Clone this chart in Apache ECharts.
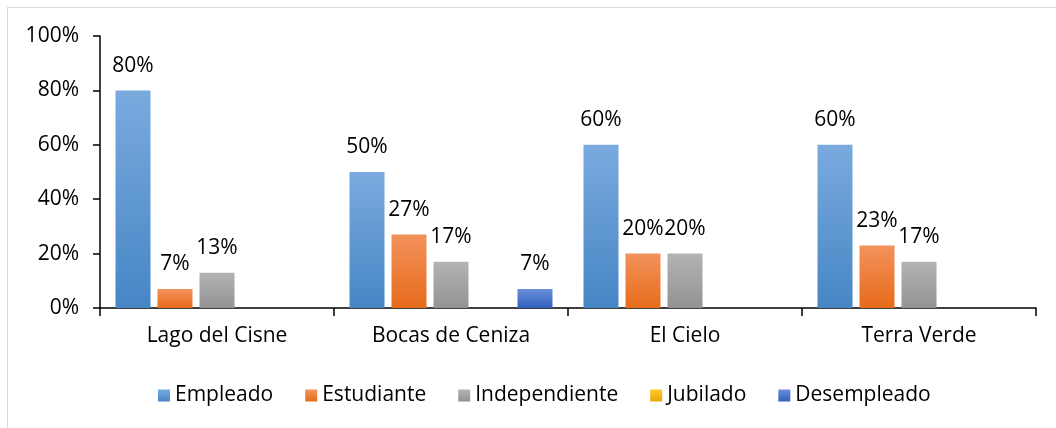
<!DOCTYPE html>
<html>
<head>
<meta charset="utf-8">
<script src="https://cdn.jsdelivr.net/npm/echarts@6/dist/echarts.min.js"></script>
<style>
    html, body { margin: 0; padding: 0; background: #fff; }
    #frame {
        position: absolute; left: 7px; top: 7px; width: 1100px; height: 500px;
        border-left: 1px solid #d9d9d9; border-top: 1px solid #d9d9d9;
    }
    #chart { position: absolute; left: 0; top: 0; width: 1056px; height: 428px; }
</style>
</head>
<body>
<div id="frame"></div>
<div id="chart"></div>
<script>
    // Lugares
    const categories = ['Lago del Cisne', 'Bocas de Ceniza', 'El Cielo', 'Terra Verde'];
    // Ocupación (%)
    const empleado = [80, 50, 60, 60];
    const estudiante = [7, 27, 20, 23];
    const independiente = [13, 17, 20, 17];
    const jubilado = [0, 0, 0, 0];
    const desempleado = [0, 7, 0, 0];
    const yTicks = [0, 20, 40, 60, 80, 100];

    const font = "'Open Sans', 'DejaVu Sans', sans-serif";

    const grad = (top, bottom) => new echarts.graphic.LinearGradient(0, 0, 0, 1, [
        { offset: 0, color: top },
        { offset: 1, color: bottom }
    ]);

    const makeSeries = (name, data, top, bottom) => ({
        type: 'bar',
        name: name,
        data: data,
        barWidth: 35,
        barGap: '20%',
        itemStyle: { color: grad(top, bottom) },
        label: {
            show: true,
            position: 'top',
            distance: 14,
            color: '#000',
            fontFamily: font,
            fontSize: 21,
            formatter: (p) => p.value > 0 ? p.value + '%' : ''
        }
    });

    const chart = echarts.init(document.getElementById('chart'), null, { renderer: 'canvas' });

    chart.setOption({
        animation: false,
        textStyle: { fontFamily: font },
        grid: { left: 100, right: 20, top: 36, bottom: 120 },
        legend: {
            left: 153,
            top: 380,
            itemWidth: 12,
            itemHeight: 12,
            itemGap: 32,
            icon: 'rect',
            textStyle: { color: '#000', fontSize: 21, fontFamily: font },
            data: ['Empleado', 'Estudiante', 'Independiente', 'Jubilado', 'Desempleado']
        },
        xAxis: {
            type: 'category',
            data: categories,
            axisLine: { lineStyle: { color: '#000', width: 1.5 } },
            axisTick: { show: true, length: 8, lineStyle: { color: '#000', width: 1.5 } },
            axisLabel: { color: '#000', fontSize: 21, fontFamily: font, margin: 18 }
        },
        yAxis: {
            type: 'value',
            min: yTicks[0],
            max: yTicks[yTicks.length - 1],
            interval: 20,
            axisLine: { show: true, lineStyle: { color: '#000', width: 1.5 } },
            axisTick: { show: true, length: 7, lineStyle: { color: '#000', width: 1.5 } },
            splitLine: { show: false },
            axisLabel: {
                color: '#000', fontSize: 21, fontFamily: font, margin: 21,
                formatter: '{value}%'
            }
        },
        series: [
            makeSeries('Empleado', empleado, '#7aaade', '#4686c5'),
            makeSeries('Estudiante', estudiante, '#f3925c', '#e76b1b'),
            makeSeries('Independiente', independiente, '#b3b3b3', '#939393'),
            makeSeries('Jubilado', jubilado, '#ffc82e', '#e7ab00'),
            makeSeries('Desempleado', desempleado, '#6a8fd9', '#3060bf')
        ]
    });
</script>
</body>
</html>
